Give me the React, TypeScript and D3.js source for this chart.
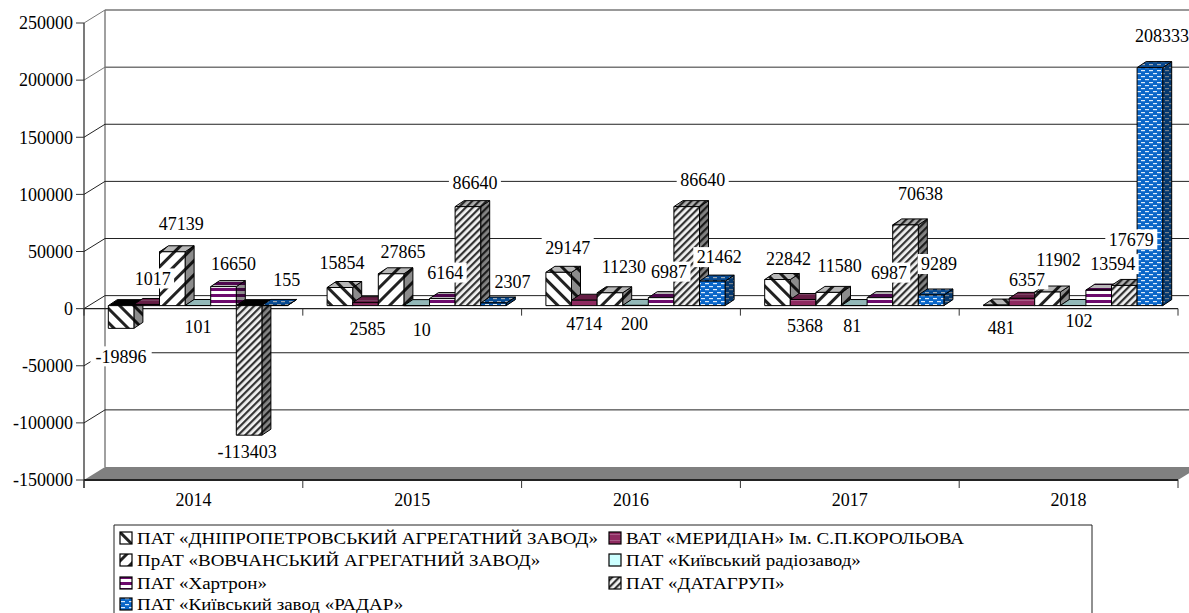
import React from 'react';
import * as d3 from 'd3';

const years = ['2014', '2015', '2016', '2017', '2018'];
const seriesNames = [
  'ПАТ «ДНІПРОПЕТРОВСЬКИЙ АГРЕГАТНИЙ ЗАВОД»',
  'ВАТ «МЕРИДІАН» Ім. С.П.КОРОЛЬОВА',
  'ПрАТ «ВОВЧАНСЬКИЙ АГРЕГАТНИЙ ЗАВОД»',
  'ПАТ «Київський радіозавод»',
  'ПАТ «Хартрон»',
  'ПАТ «ДАТАГРУП»',
  'ПАТ «Київський завод «РАДАР»',
];
const dnipro = [-19896, 15854, 29147, 22842, 481];
const merydian = [1017, 2585, 4714, 5368, 6357];
const vovchansk = [47139, 27865, 11230, 11580, 11902];
const radiozavod = [101, 10, 200, 81, 102];
const hartron = [16650, 6164, 6987, 6987, 13594];
const datagroup = [-113403, 86640, 86640, 70638, 17679];
const radar = [155, 2307, 21462, 9289, 208333];
const allSeries = [dnipro, merydian, vovchansk, radiozavod, hartron, datagroup, radar];
const yTicks = [250000, 200000, 150000, 100000, 50000, 0, -50000, -100000, -150000];

// hand placed label nudges from the top of each bar, [dx, dy] by series then year
const labelNudge = [
  [[0, 28], [2, -25], [9, -25], [11, -21], [5, 23]],
  [[6, -26], [2, 26], [0, 23], [2, 26], [5, -19]],
  [[9, -28], [12, -22], [14, -26], [11, -27], [11, -32]],
  [[0, 21], [5, 24], [-1, 18], [-2, 20], [6, 15]],
  [[10, -23], [3, -26], [8, -26], [9, -25], [14, -26]],
  [[-2, 17], [7, -24], [16, -27], [15, -31], [7, -46]],
  [[12, -26], [19, -21], [7, -24], [8, -31], [12, -32]],
];

const width = 1189;
const height = 613;
const font = '"Liberation Serif", "Times New Roman", serif';
const axisLeft = 84;
const axisRight = 1178;
const depthX = 21;
const depthY = -13;
const barDepthX = 9;
const barDepthY = -6;
const barWidth = 25.6;
const LABEL_SIZE = 18;

const x0 = d3.scaleBand<string>().domain(years).range([axisLeft, axisRight]);
const y = d3.scaleLinear().domain([-150000, 250000]).range([480, 23]);
const xInner = d3.scaleBand<number>()
  .domain(d3.range(7))
  .range([0, barWidth * 7]);
const groupPad = (x0.bandwidth() - barWidth * 7) / 2;

const Patterns = () => (
  <defs>
    <pattern id="p0" width="10" height="10" patternUnits="userSpaceOnUse" patternTransform="rotate(45)">
      <rect width="10" height="10" fill="#fff" />
      <rect width="10" height="3" fill="#222" />
    </pattern>
    <pattern id="p1" width="6" height="6" patternUnits="userSpaceOnUse">
      <rect width="6" height="6" fill="#8e2a60" />
      <rect width="6" height="1" fill="#a85c88" />
    </pattern>
    <pattern id="p2" width="10" height="10" patternUnits="userSpaceOnUse" patternTransform="rotate(-45)">
      <rect width="10" height="10" fill="#fff" />
      <rect width="10" height="3" fill="#222" />
    </pattern>
    <pattern id="p3" width="6" height="6" patternUnits="userSpaceOnUse">
      <rect width="6" height="6" fill="#ccffff" />
    </pattern>
    <pattern id="p4" width="6" height="6" patternUnits="userSpaceOnUse">
      <rect width="6" height="6" fill="#fff" />
      <rect width="6" height="3" fill="#6d0a6d" />
    </pattern>
    <pattern id="p5" width="5" height="5" patternUnits="userSpaceOnUse" patternTransform="rotate(-45)">
      <rect width="5" height="5" fill="#f2f2f2" />
      <rect width="5" height="2.2" fill="#333" />
    </pattern>
    <pattern id="p6" width="8" height="6" patternUnits="userSpaceOnUse">
      <rect width="8" height="6" fill="#0a66c8" />
      <rect x="1" y="1" width="4" height="1.2" fill="#dcebfa" />
      <rect x="5" y="4" width="3" height="1.2" fill="#dcebfa" />
      <rect x="0" y="4" width="1" height="1.2" fill="#dcebfa" />
    </pattern>
  </defs>
);

const Bar = ({ s, g }: { s: number; g: number }) => {
  const value = allSeries[s][g];
  const left = x0(years[g])! + groupPad + 4.5 + xInner(s)!;
  const right = left + barWidth;
  const zero = y(0) - 3;
  const end = zero + (y(value) - y(0));
  const top = Math.min(zero, end);
  const bottom = Math.max(zero, end);
  const fill = `url(#p${s})`;
  const topFace = `M${left},${top}L${left + barDepthX},${top + barDepthY}L${right + barDepthX},${top + barDepthY}L${right},${top}Z`;
  const sideFace = `M${right},${top}L${right + barDepthX},${top + barDepthY}L${right + barDepthX},${bottom + barDepthY}L${right},${bottom}Z`;
  const stroke = { stroke: '#000', strokeWidth: 1, strokeLinejoin: 'round' as const };
  return (
    <g>
      <path d={sideFace} fill={fill} />
      <path d={sideFace} fill="#000" fillOpacity={0.45} {...stroke} />
      {value < 0 ? (
        <path d={topFace} fill="#000" {...stroke} />
      ) : (
        <>
          <path d={topFace} fill={fill} />
          <path d={topFace} fill="#000" fillOpacity={0.28} {...stroke} />
        </>
      )}
      <rect x={left} y={top} width={barWidth} height={bottom - top} fill={fill} {...stroke} />
    </g>
  );
};

const Label = ({ s, g }: { s: number; g: number }) => {
  const value = allSeries[s][g];
  const [dx, dy] = labelNudge[s][g];
  const cx = x0(years[g])! + groupPad + 4.5 + xInner(s)! + barWidth / 2 + dx;
  const cy = y(value) - 3 + dy;
  const text = String(value);
  const w = text.length * 9.2 + 6;
  return (
    <g>
      <rect x={cx - w / 2} y={cy - 10} width={w} height={20} fill="#fff" />
      <text x={cx} y={cy} dy="0.35em" textAnchor="middle" fontSize={LABEL_SIZE} fontFamily={font} fill="#000">
        {text}
      </text>
    </g>
  );
};

const legendRows = [538, 560, 583, 604];
const legendCols = [120, 609];

export default function App() {
  return (
    <svg
      width={width}
      height={height}
      style={{ position: 'absolute', left: 0, top: 0, background: '#fff' }}
    >
      <Patterns />

      {/* floor */}
      <path
        d={`M${axisLeft},480L${axisRight},480L${axisRight + depthX},${480 + depthY}L${axisLeft + depthX},${480 + depthY}Z`}
        fill="#808080"
      />
      <line x1={axisLeft} x2={axisRight} y1={480} y2={480} stroke="#222" strokeWidth={2} />

      {/* back wall and gridlines, the top two come out lighter in the source */}
      <line x1={axisLeft + depthX} x2={axisLeft + depthX} y1={y(250000) + depthY} y2={480 + depthY} stroke="#808080" strokeWidth={1.5} />
      {yTicks.slice(0, -1).map(t => {
        const c = t >= 200000 ? '#777' : '#222';
        return (
          <g key={t}>
            <line x1={axisLeft + depthX} x2={width} y1={y(t) + depthY} y2={y(t) + depthY} stroke={c} strokeWidth={t >= 200000 ? 1.5 : 1} />
            <line x1={axisLeft} x2={axisLeft + depthX} y1={y(t)} y2={y(t) + depthY} stroke={c} strokeWidth={1} />
          </g>
        );
      })}

      {/* y axis */}
      <line x1={axisLeft} x2={axisLeft} y1={y(250000)} y2={488} stroke="#222" strokeWidth={1.2} />
      {yTicks.map(t => (
        <g key={t}>
          <line x1={76} x2={axisLeft} y1={y(t)} y2={y(t)} stroke="#333" />
          <text x={73} y={y(t)} dy="0.35em" textAnchor="end" fontSize={LABEL_SIZE} fontFamily={font}>
            {t}
          </text>
        </g>
      ))}

      {/* x axis at zero and ticks on both levels */}
      <line x1={axisLeft} x2={axisRight} y1={y(0)} y2={y(0)} stroke="#222" strokeWidth={1.2} />
      {d3.range(6).map(i => {
        const tx = axisLeft + x0.bandwidth() * i;
        return (
          <g key={i}>
            <line x1={tx} x2={tx} y1={y(0)} y2={y(0) + 7} stroke="#333" />
            <line x1={tx} x2={tx} y1={480} y2={488} stroke="#333" />
          </g>
        );
      })}
      {years.map(yr => (
        <text
          key={yr}
          x={x0(yr)! + x0.bandwidth() / 2}
          y={500}
          dy="0.35em"
          textAnchor="middle"
          fontSize={LABEL_SIZE}
          fontFamily={font}
        >
          {yr}
        </text>
      ))}

      {/* bars */}
      {years.map((_, g) =>
        allSeries.map((_s, s) => <Bar key={`${g}-${s}`} s={s} g={g} />),
      )}
      {years.map((_, g) =>
        allSeries.map((_s, s) => <Label key={`${g}-${s}`} s={s} g={g} />),
      )}

      {/* legend, open at the bottom because the picture is cut there */}
      <path d={`M114,${height}V525H1092V${height}`} fill="none" stroke="#222" />
      {seriesNames.map((name, i) => {
        const col = legendCols[i % 2];
        const row = legendRows[Math.floor(i / 2)];
        return (
          <g key={name}>
            <rect x={col} y={row - 6} width={12} height={12} fill={`url(#p${i})`} stroke="#000" strokeWidth={1.2} />
            <text
              transform={`translate(${col + 17},${row}) scale(1.116,1)`}
              dy="0.35em"
              fontSize={17}
              fontFamily={font}
            >
              {name}
            </text>
          </g>
        );
      })}
    </svg>
  );
}
